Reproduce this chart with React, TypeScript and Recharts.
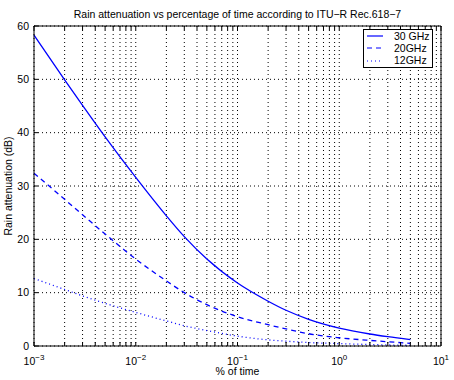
import React from "react";
import { LineChart, Line, XAxis, YAxis, CartesianGrid, Legend } from "recharts";

// % of time (x) and rain attenuation in dB for each frequency
const percentOfTime = [0.001, 0.002, 0.003, 0.005, 0.01, 0.02, 0.03, 0.05, 0.1, 0.2, 0.3, 0.5, 1, 2, 3, 5];
const atten30 = [58.3, 49.9, 45.1, 39.2, 31.6, 24.4, 20.5, 16.3, 11.8, 8.4, 6.7, 5.0, 3.35, 2.25, 1.75, 1.2];
const atten20 = [32.4, 27.5, 24.6, 21.0, 16.3, 12.2, 10.0, 7.75, 5.5, 4.0, 3.2, 2.3, 1.55, 1.05, 0.8, 0.5];
const atten12 = [12.65, 10.6, 9.4, 8.0, 6.3, 4.7, 3.8, 2.9, 1.85, 1.15, 0.9, 0.65, 0.45, 0.28, 0.2, 0.13];

const seriesNames = ["30 GHz", "20GHz", "12GHz"];
const seriesKeys = ["f30", "f20", "f12"];
const seriesDash = [undefined, "5 4", "1 3"];

const decades = [0.001, 0.01, 0.1, 1, 10];
const minorSteps = [1, 2, 3, 4, 5, 6, 7, 8, 9];
const yTicks = [0, 10, 20, 30, 40, 50, 60];

const xTicks = decades.flatMap((d) =>
  d === 10 ? [10] : minorSteps.map((m) => Number((d * m).toPrecision(3)))
);

const data = percentOfTime.map((p, i) => ({
  p,
  f30: atten30[i],
  f20: atten20[i],
  f12: atten12[i],
}));

const BLUE = "#0000ff";
const FONT = "'Liberation Sans', Arial, Helvetica, sans-serif";
const FS = 10.5;

function DecadeTick(props: any) {
  const { x, y, payload } = props;
  const e = Math.log10(payload.value);
  const r = Math.round(e);
  if (Math.abs(e - r) > 1e-6) return <g />;
  return (
    <text x={x} y={y + 8.5} textAnchor="middle" fontSize={FS} fill="#000" fontFamily={FONT}>
      10
      <tspan dy={-5} fontSize={8}>
        {r < 0 ? "\u2212" + Math.abs(r) : r}
      </tspan>
    </text>
  );
}

function YLabel(props: any) {
  const { viewBox } = props;
  const cx = viewBox.x + 12;
  const cy = viewBox.y + viewBox.height / 2;
  return (
    <text
      x={cx}
      y={cy}
      transform={`rotate(-90 ${cx} ${cy})`}
      textAnchor="middle"
      fontSize={FS}
      fill="#000"
      fontFamily={FONT}
    >
      Rain attenuation (dB)
    </text>
  );
}

function LegendBox() {
  return (
    <div
      style={{
        boxSizing: "border-box",
        width: 70,
        height: 39,
        border: "1px solid #000",
        background: "#fff",
        fontFamily: FONT,
        fontSize: FS,
        lineHeight: 1,
      }}
    >
      {seriesNames.map((n, i) => (
        <div key={n} style={{ display: "flex", alignItems: "center", height: 12.3 }}>
          <svg width={28} height={6}>
            <line x1={3} x2={19} y1={3} y2={3} stroke={BLUE} strokeWidth={1.2} strokeDasharray={seriesDash[i]} />
          </svg>
          <span style={{ marginLeft: 2 }}>{n}</span>
        </div>
      ))}
    </div>
  );
}

export default function App() {
  return (
    <div style={{ position: "absolute", top: 0, left: 0, width: 454, height: 380, background: "#fff", fontFamily: FONT }}>
      <LineChart width={454} height={380} data={data} margin={{ top: 25, right: 12, bottom: 0, left: 0 }}>
        <CartesianGrid stroke="#000" strokeDasharray="1 3" />
        <XAxis
          dataKey="p"
          type="number"
          scale="log"
          domain={[0.001, 10]}
          ticks={xTicks}
          interval={0}
          height={34}
          stroke="#000"
          tickSize={-4}
          tickMargin={14}
          tick={DecadeTick}
          label={{ value: "% of time", position: "insideBottom", offset: 5, fontSize: FS, fill: "#000" }}
        />
        <XAxis
          xAxisId="top"
          orientation="top"
          dataKey="p"
          type="number"
          scale="log"
          domain={[0.001, 10]}
          ticks={xTicks}
          interval={0}
          height={1}
          stroke="#000"
          tickSize={-4}
          tick={() => <g />}
          label={{
            value: "Rain attenuation vs percentage of time according to ITU\u2212R Rec.618\u22127",
            position: "top",
            offset: 7,
            fontSize: FS,
            fill: "#000",
          }}
        />
        <YAxis
          type="number"
          domain={[0, 60]}
          ticks={yTicks}
          interval={0}
          width={34}
          stroke="#000"
          tickSize={-4}
          tickMargin={9}
          tick={{ fontSize: FS, fill: "#000" }}
          label={<YLabel />}
        />
        <YAxis
          yAxisId="r"
          orientation="right"
          type="number"
          domain={[0, 60]}
          ticks={yTicks}
          interval={0}
          width={1}
          stroke="#000"
          tickSize={-4}
          tick={() => <g />}
        />
        {seriesKeys.map((k, i) => (
          <Line
            key={k}
            dataKey={k}
            name={seriesNames[i]}
            type="monotone"
            stroke={BLUE}
            strokeWidth={1.3}
            strokeDasharray={seriesDash[i]}
            dot={false}
            activeDot={false}
            isAnimationActive={false}
          />
        ))}
        <Legend
          layout="vertical"
          verticalAlign="middle"
          align="center"
          content={<LegendBox />}
          wrapperStyle={{ top: 29, left: 363, right: "auto", bottom: "auto", width: 70 }}
        />
      </LineChart>
    </div>
  );
}
